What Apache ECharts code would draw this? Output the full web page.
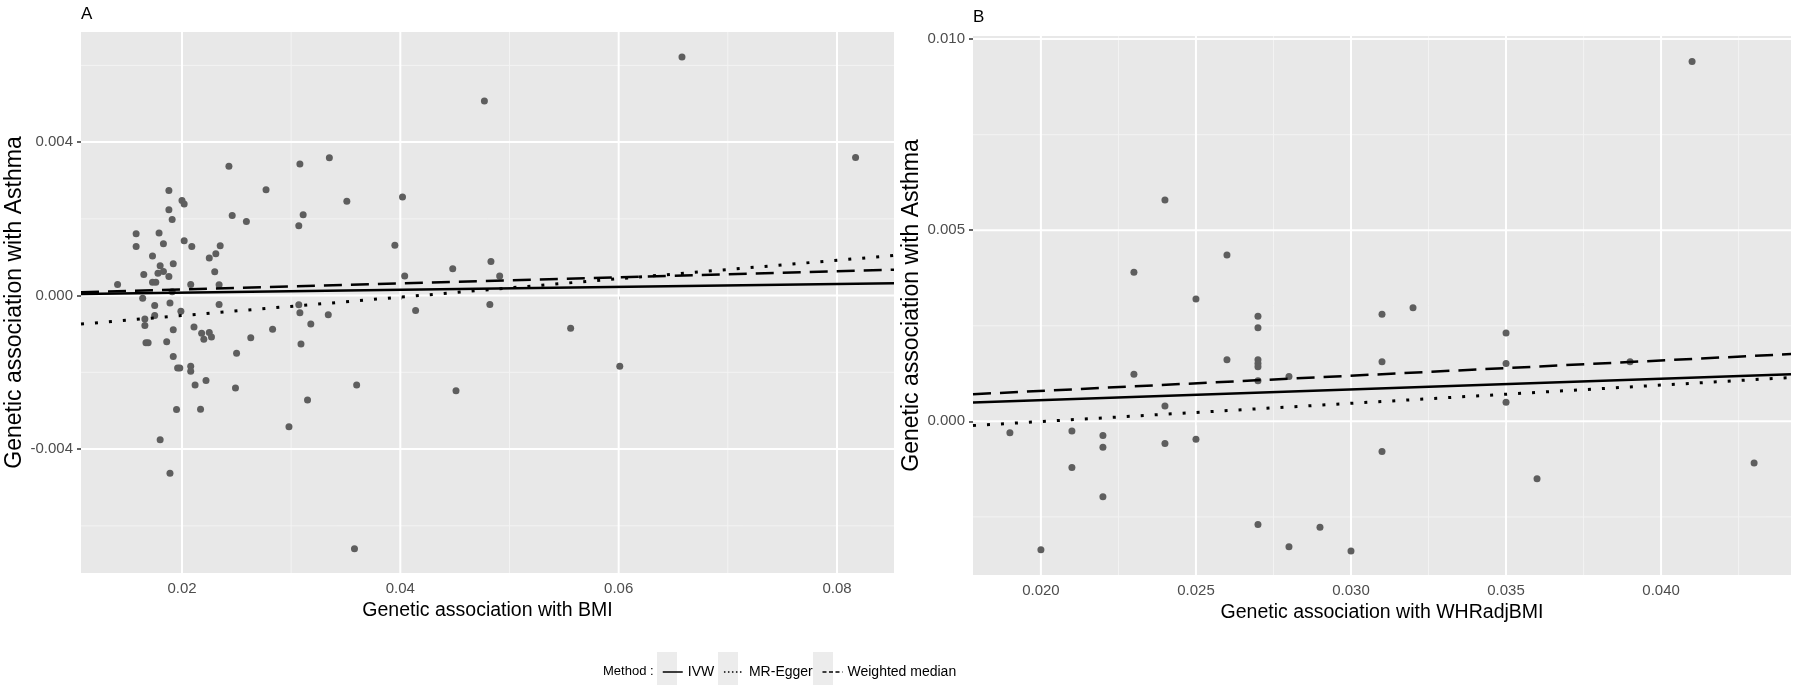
<!DOCTYPE html>
<html>
<head>
<meta charset="utf-8">
<title>MR scatter plots - Asthma</title>
<script src="https://cdn.jsdelivr.net/npm/echarts@6/dist/echarts.min.js"></script>
<style>
    html, body { margin: 0; padding: 0; background: #fff; }
    #mrChart { width: 1800px; height: 699px; }
</style>
</head>
<body>
<div id="mrChart"></div>
<script>
// Panel A: SNP effects on BMI (x) and on asthma (y)
var bmiBeta = [0.0141, 0.0158, 0.0158, 0.0165, 0.0164, 0.0173, 0.0175, 0.0179, 0.0183, 0.0180,
    0.0178, 0.0183, 0.0173, 0.0176, 0.0188, 0.0188, 0.0188, 0.0191, 0.0192, 0.0189,
    0.0191, 0.0200, 0.0202, 0.0202, 0.0209, 0.0208, 0.0199, 0.0225, 0.0231, 0.0235,
    0.0230, 0.0234, 0.0234, 0.0243, 0.0246, 0.0259, 0.0277, 0.0308, 0.0311, 0.0307,
    0.0307, 0.0335, 0.0351, 0.0334, 0.0395, 0.0402, 0.0404, 0.0414, 0.0448, 0.0166,
    0.0175, 0.0166, 0.0192, 0.0211, 0.0218, 0.0220, 0.0225, 0.0227, 0.0263, 0.0283,
    0.0308, 0.0318, 0.0309, 0.0167, 0.0169, 0.0186, 0.0192, 0.0196, 0.0198, 0.0208,
    0.0208, 0.0212, 0.0222, 0.0250, 0.0249, 0.0195, 0.0217, 0.0298, 0.0315, 0.0360,
    0.0451, 0.0180, 0.0189, 0.0358, 0.0477, 0.0658, 0.0817, 0.0483, 0.0491, 0.0482,
    0.0556, 0.0601];
var bmiAsthma = [0.00029, 0.00161, 0.00128, 0.00055, -0.00007, 0.00103, -0.00026, 0.00163, 0.00135, 0.00078,
    0.00058, 0.00063, 0.00035, 0.00035, 0.00050, 0.00274, 0.00224, 0.00198, 0.00083, -0.00019,
    0.00010, 0.00248, 0.00239, 0.00143, 0.00128, 0.00029, -0.00041, 0.00098, 0.00109, 0.00130,
    0.00062, 0.00028, -0.00023, 0.00337, 0.00209, 0.00193, 0.00276, 0.00343, 0.00211, 0.00182,
    -0.00024, 0.00359, 0.00246, -0.00050, 0.00131, 0.00257, 0.00051, -0.00039, 0.00070, -0.00061,
    -0.00052, -0.00078, -0.00089, -0.00082, -0.00098, -0.00114, -0.00096, -0.00108, -0.00110, -0.00088,
    -0.00045, -0.00074, -0.00126, -0.00123, -0.00123, -0.00120, -0.00159, -0.00189, -0.00189, -0.00184,
    -0.00197, -0.00233, -0.00221, -0.00150, -0.00241, -0.00297, -0.00296, -0.00342, -0.00272, -0.00233,
    -0.00248, -0.00376, -0.00463, -0.00660, 0.00507, 0.00622, 0.00360, 0.00089, 0.00051, -0.00023,
    -0.00085, -0.00184];

// Panel B: SNP effects on WHRadjBMI (x) and on asthma (y)
var whrBeta = [0.0240, 0.0230, 0.0260, 0.0250, 0.0270, 0.0270, 0.0260, 0.0270, 0.0270, 0.0270,
    0.0230, 0.0270, 0.0280, 0.0240, 0.0190, 0.0210, 0.0220, 0.0220, 0.0240, 0.0250,
    0.0210, 0.0220, 0.0270, 0.0290, 0.0200, 0.0280, 0.0300, 0.0410, 0.0310, 0.0320,
    0.0350, 0.0310, 0.0350, 0.0390, 0.0350, 0.0310, 0.0360, 0.0430];
var whrAsthma = [0.00579, 0.00390, 0.00435, 0.00320, 0.00275, 0.00245, 0.00161, 0.00161, 0.00151, 0.00143,
    0.00123, 0.00106, 0.00117, 0.00040, -0.00030, -0.00025, -0.00037, -0.00068, -0.00058, -0.00047,
    -0.00121, -0.00197, -0.00270, -0.00277, -0.00336, -0.00328, -0.00339, 0.00941, 0.00280, 0.00297,
    0.00231, 0.00156, 0.00151, 0.00156, 0.00050, -0.00079, -0.00150, -0.00109];

// MR estimates (intercept + slope) per method
var methods = ['IVW', 'MR-Egger', 'Weighted median'];
var interceptA = [0, -0.0010, 0];
var slopeA = [0.0038, 0.0240, 0.0079];
var interceptB = [0, -0.00096, 0];
var slopeB = [0.0278, 0.0477, 0.0398];

// axis breaks
var xTicksA = [0.02, 0.04, 0.06, 0.08];
var xMinorA = [0.03, 0.05, 0.07];
var yTicksA = [-0.004, 0, 0.004];
var yMinorA = [-0.006, -0.002, 0.002, 0.006];
var xTicksB = [0.020, 0.025, 0.030, 0.035, 0.040];
var xMinorB = [0.0225, 0.0275, 0.0325, 0.0375, 0.0425];
var yTicksB = [0, 0.005, 0.010];
var yMinorB = [-0.0025, 0.0025, 0.0075];

var FONT = 'Liberation Sans, Arial, sans-serif';
var lineDash = ['solid', [3, 11], [18, 9]];
var lineWidth = [2.5, 3, 2.5];
var legendDash = ['solid', [1.5, 2.5], [4, 2.5]];

function pairs(xs, ys) {
    return xs.map(function (x, i) { return [x, ys[i]]; });
}

// [value, 0 = vertical / 1 = horizontal, 1 = major / 0 = minor]
function gridData(xMajor, xMinor, yMajor, yMinor) {
    var d = [];
    xMinor.forEach(function (v) { d.push([v, 0, 0]); });
    yMinor.forEach(function (v) { d.push([v, 1, 0]); });
    xMajor.forEach(function (v) { d.push([v, 0, 1]); });
    yMajor.forEach(function (v) { d.push([v, 1, 1]); });
    return d;
}

function gridSeries(idx, data) {
    return {
        type: 'custom',
        xAxisIndex: idx,
        yAxisIndex: idx,
        silent: true,
        z: 1,
        encode: { x: -1, y: -1 },
        clip: true,
        renderItem: function (params, api) {
            var cs = params.coordSys;
            var v = api.value(0);
            var horizontal = api.value(1) === 1;
            var major = api.value(2) === 1;
            var shape;
            if (horizontal) {
                var py = api.coord([0, v])[1];
                shape = { x1: cs.x, y1: py, x2: cs.x + cs.width, y2: py };
            } else {
                var px = api.coord([v, 0])[0];
                shape = { x1: px, y1: cs.y, x2: px, y2: cs.y + cs.height };
            }
            return {
                type: 'line',
                shape: shape,
                style: { stroke: major ? '#ffffff' : '#f3f3f3', lineWidth: major ? 2 : 1 }
            };
        },
        data: data
    };
}

function fitLines(idx, intercept, slope, xRange) {
    return methods.map(function (name, i) {
        return {
            name: name,
            type: 'line',
            xAxisIndex: idx,
            yAxisIndex: idx,
            symbol: 'none',
            silent: true,
            z: 4,
            itemStyle: { color: '#000' },
            lineStyle: { color: '#000', width: lineWidth[i], type: lineDash[i] },
            data: xRange.map(function (x) { return [x, intercept[i] + slope[i] * x]; })
        };
    });
}

function xAxisOf(idx, name, min, max, ticks, digits) {
    return {
        gridIndex: idx, type: 'value', min: min, max: max,
        name: name, nameLocation: 'middle', nameGap: 27,
        nameTextStyle: { fontSize: 19.5, color: '#000', fontFamily: FONT },
        axisLine: { show: false },
        splitLine: { show: false },
        axisTick: { show: true, length: 4, customValues: ticks, lineStyle: { color: '#333', width: 1.5 } },
        axisLabel: {
            customValues: ticks, margin: 8, fontSize: 15, color: '#4d4d4d', fontFamily: FONT,
            formatter: function (v) { return v.toFixed(digits); }
        }
    };
}

function yAxisOf(idx, name, min, max, ticks, gap) {
    return {
        gridIndex: idx, type: 'value', min: min, max: max,
        name: name, nameLocation: 'middle', nameGap: gap,
        nameTextStyle: { fontSize: 23, color: '#000', fontFamily: FONT },
        axisLine: { show: false },
        splitLine: { show: false },
        axisTick: { show: true, length: 4, customValues: ticks, lineStyle: { color: '#333', width: 1.5 } },
        axisLabel: {
            customValues: ticks, margin: 8, fontSize: 15, color: '#4d4d4d', fontFamily: FONT,
            formatter: function (v) { return v.toFixed(3); }
        }
    };
}

function scatterOf(idx, xs, ys) {
    return {
        type: 'scatter',
        xAxisIndex: idx,
        yAxisIndex: idx,
        symbolSize: 7,
        z: 3,
        silent: true,
        itemStyle: { color: '#5e5e5e', opacity: 1 },
        data: pairs(xs, ys)
    };
}

var rangeA = [0.01075, 0.08522];
var rangeB = [0.01781, 0.04419];

var dom = document.getElementById('mrChart');
var myChart = echarts.init(dom);
var option = {
    animation: false,
    backgroundColor: '#fff',
    textStyle: { fontFamily: FONT },
    grid: [
        { left: 81, right: 906, top: 32, bottom: 126, show: true, backgroundColor: '#e8e8e8', borderWidth: 0 },
        { left: 973, right: 9, top: 36, bottom: 124, show: true, backgroundColor: '#e8e8e8', borderWidth: 0 }
    ],
    xAxis: [
        xAxisOf(0, 'Genetic association with BMI', rangeA[0], rangeA[1], xTicksA, 2),
        xAxisOf(1, 'Genetic association with WHRadjBMI', rangeB[0], rangeB[1], xTicksB, 3)
    ],
    yAxis: [
        yAxisOf(0, 'Genetic association with Asthma', -0.00723, 0.00687, yTicksA, 54),
        yAxisOf(1, 'Genetic association with Asthma', -0.00402, 0.01008, yTicksB, 48)
    ],
    legend: {
        left: 657,
        top: 660,
        itemWidth: 20,
        itemHeight: 14,
        itemGap: 9,
        selectedMode: false,
        textStyle: { fontSize: 14, color: '#000', fontFamily: FONT },
        data: methods.map(function (m, i) {
            return {
                name: m,
                itemStyle: { color: 'rgba(0,0,0,0)', borderWidth: 0, opacity: 0 },
                lineStyle: { type: legendDash[i], width: 1.5, color: '#000' }
            };
        })
    },
    graphic: [
        { type: 'text', left: 81, top: 6, style: { text: 'A', fontSize: 17, fill: '#000', fontFamily: FONT } },
        { type: 'text', left: 973, top: 9, style: { text: 'B', fontSize: 17, fill: '#000', fontFamily: FONT } },
        { type: 'text', left: 603, top: 665, style: { text: 'Method :', fontSize: 13, fill: '#000', fontFamily: FONT } },
        { type: 'rect', left: 657, top: 652, shape: { width: 20, height: 33 }, style: { fill: '#ececec' } },
        { type: 'rect', left: 718, top: 652, shape: { width: 20, height: 33 }, style: { fill: '#ececec' } },
        { type: 'rect', left: 813, top: 652, shape: { width: 20, height: 33 }, style: { fill: '#ececec' } }
    ],
    series: [
        gridSeries(0, gridData(xTicksA, xMinorA, yTicksA, yMinorA)),
        gridSeries(1, gridData(xTicksB, xMinorB, yTicksB, yMinorB)),
        scatterOf(0, bmiBeta, bmiAsthma),
        scatterOf(1, whrBeta, whrAsthma)
    ].concat(fitLines(0, interceptA, slopeA, rangeA), fitLines(1, interceptB, slopeB, rangeB))
};

if (option && typeof option === 'object') {
    myChart.setOption(option);
    window.addEventListener('resize', function () {
        myChart.resize();
    });
}
</script>
</body>
</html>
